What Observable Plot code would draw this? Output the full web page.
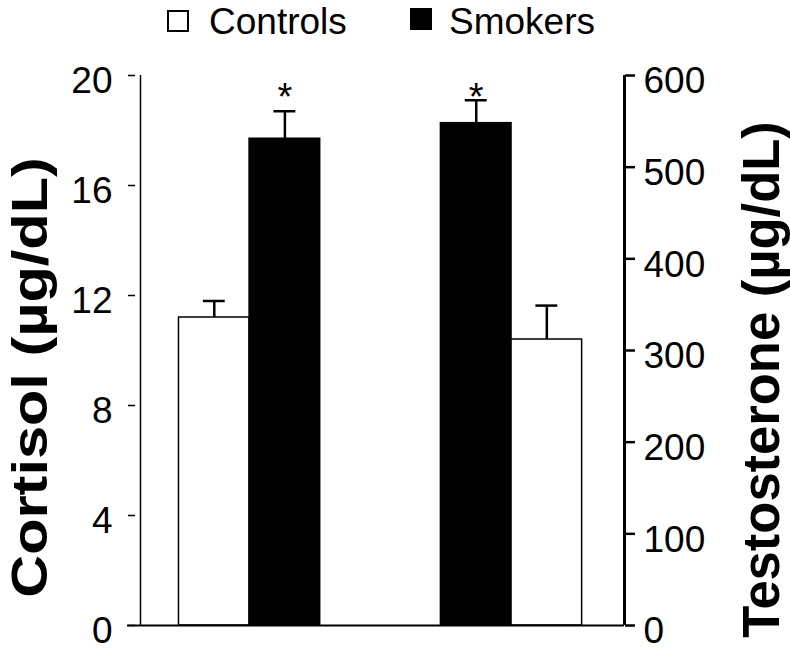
<!DOCTYPE html>
<html><head><meta charset="utf-8">
<script src="https://cdn.jsdelivr.net/npm/d3@7"></script>
<script src="https://cdn.jsdelivr.net/npm/@observablehq/plot@0.6"></script>
<style>
body{margin:0;background:#fff;font-family:"Liberation Sans",Arial,Helvetica,sans-serif;color:#000;}
#legend{position:relative;width:790px;height:45px;}
#legend .box{position:absolute;width:22px;height:22px;box-sizing:border-box;border:2.5px solid #000;}
#legend .lab{position:absolute;font-size:37px;line-height:37px;white-space:nowrap;}
</style></head><body>
<div id="legend"></div><div id="chart"></div>
<script>
// ---- data ----
const groups = ["Controls", "Smokers"];
const measures = ["Cortisol", "Testosterone"];
const measureOrder = [["Controls", "Smokers"], ["Smokers", "Controls"]];
const cortisolMean = [11.2, 17.7];      // Controls, Smokers (µg/dL)
const cortisolSE = [0.6, 1.0];
const testosteroneMean = [312, 548];    // Controls, Smokers (µg/dL)
const testosteroneSE = [37, 25];
const significant = [false, true];      // Controls, Smokers
const cortisolTicks = [0, 4, 8, 12, 16, 20];
const testosteroneTicks = [0, 100, 200, 300, 400, 500, 600];
const axisTitles = ["Cortisol (µg/dL)", "Testosterone (µg/dL)"];

// ---- layout / styles ----
const groupFill = {Controls: "white", Smokers: "black"};
const ratio = testosteroneTicks[testosteroneTicks.length - 1] / cortisolTicks[cortisolTicks.length - 1];
const stride = 3.71, capHalf = 0.155;
const xDomain = [-0.545, 6.31];

const rows = [];
measures.forEach((m, mi) => {
  measureOrder[mi].forEach((g, k) => {
    const gi = groups.indexOf(g);
    const value = mi === 0 ? cortisolMean[gi] : testosteroneMean[gi] / ratio;
    const se = mi === 0 ? cortisolSE[gi] : testosteroneSE[gi] / ratio;
    rows.push({measure: m, group: g, slot: mi * stride + k, value, se, sig: significant[gi]});
  });
});

// legend (HTML, above the SVG)
const legend = document.getElementById("legend");
legend.innerHTML =
  `<div class="box" style="left:167px;top:10px;background:white"></div>` +
  `<div class="lab" style="left:209px;top:3px">${groups[0]}</div>` +
  `<div class="box" style="left:410px;top:8px;background:black"></div>` +
  `<div class="lab" style="left:449px;top:3px">${groups[1]}</div>`;

const font = "'Liberation Sans', Arial, Helvetica, sans-serif";
const chart = Plot.plot({
  width: 790,
  height: 606,
  marginTop: 30,
  marginBottom: 26,
  marginLeft: 140,
  marginRight: 166,
  style: {fontFamily: font, color: "black", background: "white", overflow: "visible"},
  x: {type: "linear", domain: xDomain, axis: null},
  y: {domain: [0, cortisolTicks[cortisolTicks.length - 1]], label: null},
  marks: [
    Plot.rect(rows, {x1: "slot", x2: d => d.slot + 1, y1: 0, y2: "value",
      fill: d => groupFill[d.group], stroke: "black", strokeWidth: 1.5}),
    Plot.ruleX(rows, {x: d => d.slot + 0.5, y1: "value", y2: d => d.value + d.se, strokeWidth: 2.5}),
    Plot.ruleY(rows, {y: d => d.value + d.se, x1: d => d.slot + 0.5 - capHalf, x2: d => d.slot + 0.5 + capHalf, strokeWidth: 2.5}),
    Plot.text(rows.filter(d => d.sig), {x: d => d.slot + 0.5, text: () => "*", frameAnchor: "top",
      lineAnchor: "top", dy: 8, fontSize: 38}),
    // axis lines and baseline
    Plot.ruleX([xDomain[0]], {y1: 0, y2: cortisolTicks[cortisolTicks.length - 1], strokeWidth: 1.5}),
    Plot.ruleX([xDomain[1]], {y1: 0, y2: cortisolTicks[cortisolTicks.length - 1], strokeWidth: 3}),
    Plot.ruleY([0], {insetLeft: -13, strokeWidth: 2}),
    // left axis
    Plot.axisY(cortisolTicks, {anchor: "left", tickSize: 7, dx: -5, strokeWidth: 1.5, tickFormat: () => "", label: null}),
    Plot.axisY(cortisolTicks, {anchor: "left", tickSize: 0, tickPadding: 23, dx: -5, dy: 6, fontSize: 37, label: null}),
    // right axis (testosterone)
    Plot.axisY(testosteroneTicks.map(t => t / ratio), {anchor: "right", tickSize: 10, strokeWidth: 2.5, tickFormat: () => "", label: null}),
    Plot.axisY(testosteroneTicks.map(t => t / ratio), {anchor: "right", tickSize: 0, tickPadding: 19, dy: 6, fontSize: 37,
      tickFormat: d => String(Math.round(d * ratio)), label: null}),
    // axis titles
    Plot.text([axisTitles[0]], {text: d => d, frameAnchor: "left", textAnchor: "middle", rotate: -90, dx: -94, dy: 27,
      lineAnchor: "bottom", fontSize: 50, fontWeight: "bold"}),
    Plot.text([axisTitles[1]], {text: d => d, frameAnchor: "right", textAnchor: "middle", rotate: -90, dx: 154, dy: 29,
      lineAnchor: "bottom", fontSize: 51, fontWeight: "bold"})
  ]
});
// stretch the axis titles along their length (tall lettering of the original)
const stretch = {[axisTitles[0]]: 1.19, [axisTitles[1]]: 1.03};
d3.select(chart).selectAll("text").each(function () {
  const s = stretch[this.textContent];
  if (s) {
    const t = this.getAttribute("transform") || "";
    this.setAttribute("transform", `${t} scale(${s},1)`);
  }
});
document.getElementById("chart").appendChild(chart);
</script>
</body></html>
